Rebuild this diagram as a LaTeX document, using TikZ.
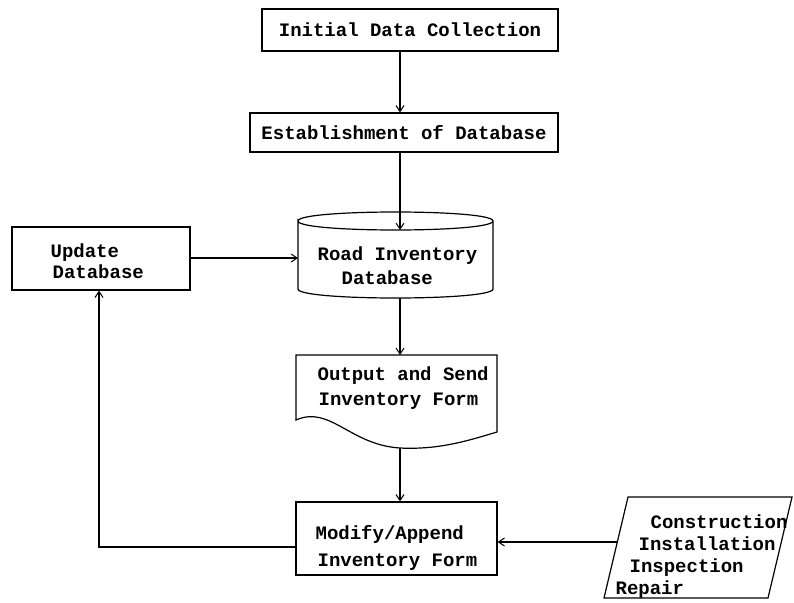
\documentclass[tikz,border=0pt]{standalone}
\usepackage{fontspec}
\setmonofont{Liberation Mono}
\usetikzlibrary{arrows.meta}
\begin{document}
\begin{tikzpicture}[x=1pt,y=-1pt,
  line width=1.2pt,
  txt/.style={font=\ttfamily\bfseries\fontsize{19}{23}\selectfont, inner sep=0pt, anchor=base west},
  boxn/.style={draw, inner sep=0pt, font=\ttfamily\bfseries\fontsize{19}{23}\selectfont},
  arr/.style={-{Straight Barb[length=6pt,width=8pt,line width=1pt]}, line width=1.1pt}]
\useasboundingbox[fill=white] (0,0) rectangle (794,602);

% boxes
\node[boxn, minimum width=296pt, minimum height=42pt] (init) at (410,30) {Initial Data Collection};
\node[boxn, minimum width=308pt, minimum height=39pt] (estab) at (404,132.5) {Establishment of Database};
\node[boxn, minimum width=178pt, minimum height=63pt] (update) at (101,258.5) {};
\node[boxn, minimum width=201pt, minimum height=73pt] (modify) at (396.5,538.5) {};

% cylinder
\draw (298,221) .. controls (298,209) and (493,209) .. (493,221)
      .. controls (493,233) and (298,233) .. (298,221) -- (298,289)
      .. controls (298,301) and (493,301) .. (493,289) -- (493,221);
\coordinate (cylL) at (298,258);
\coordinate (cylT) at (400,230);
\coordinate (cylB) at (400,298);

% document
\draw (296,355) -- (497,355) -- (497,432)
      .. controls (470,440) and (440,450) .. (400,448)
      .. controls (350,445) and (330,405) .. (296,420) -- cycle;
\coordinate (docT) at (400,355);
\coordinate (docB) at (400,448);

% parallelogram
\draw (628,497) -- (792,497) -- (768,598) -- (604,598) -- cycle;
\coordinate (paraL) at (617,542);

% texts
\node[txt] (u1) at (50,257) {Update};
\node[txt] (u2) at (52,278) {Database};
\node[txt] (r1) at (317,260) {Road Inventory};
\node[txt] (r2) at (341,284) {Database};
\node[txt] (o1) at (317,380) {Output and Send};
\node[txt] (o2) at (318,405) {Inventory Form};
\node[txt] (m1) at (315,539) {Modify/Append};
\node[txt] (m2) at (317,566) {Inventory Form};
\node[txt] (p1) at (650,528) {Construction};
\node[txt] (p2) at (638,550) {Installation};
\node[txt] (p3) at (629,572) {Inspection};
\node[txt] (p4) at (615,594) {Repair};

% connectors
\coordinate (ax) at (400,0);
\coordinate (lp) at (99,547);
\draw[arr] (init.south -| ax) -- (estab.north -| ax);
\draw[arr] (estab.south -| ax) -- (cylT);
\draw[arr] (update.east |- cylL) -- (cylL);
\draw[arr] (cylB) -- (docT);
\draw[arr] (docB) -- (modify.north -| ax);
\draw[arr] (paraL) -- (modify.east |- paraL);
\draw[arr] (modify.west |- lp) -- (lp) -- (update.south -| lp);
\end{tikzpicture}
\end{document}
